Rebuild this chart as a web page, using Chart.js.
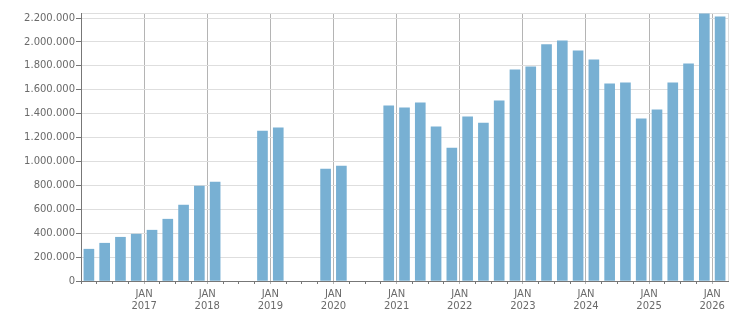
<!DOCTYPE html>
<html>
<head>
<meta charset="utf-8">
<script src="https://cdn.jsdelivr.net/npm/chart.js@4/dist/chart.umd.min.js"></script>
<style>
    body { margin: 0; background: #fff; }
</style>
</head>
<body>
<canvas id="myChart" width="751" height="313"></canvas>
<script>
// quarters from Q1 2016 to Q1 2026, null = no data
const quarters = [
    '2016 Q1', '2016 Q2', '2016 Q3', '2016 Q4',
    '2017 Q1', '2017 Q2', '2017 Q3', '2017 Q4',
    '2018 Q1', '2018 Q2', '2018 Q3', '2018 Q4',
    '2019 Q1', '2019 Q2', '2019 Q3', '2019 Q4',
    '2020 Q1', '2020 Q2', '2020 Q3', '2020 Q4',
    '2021 Q1', '2021 Q2', '2021 Q3', '2021 Q4',
    '2022 Q1', '2022 Q2', '2022 Q3', '2022 Q4',
    '2023 Q1', '2023 Q2', '2023 Q3', '2023 Q4',
    '2024 Q1', '2024 Q2', '2024 Q3', '2024 Q4',
    '2025 Q1', '2025 Q2', '2025 Q3', '2025 Q4',
    '2026 Q1'
];
const values = [
    266000, 316000, 366000, 392000,
    425000, 517000, 635000, 794000,
    828000, null, null, 1255000,
    1281000, null, null, 937000,
    962000, null, null, 1465000,
    1448000, 1490000, 1289000, 1113000,
    1373000, 1322000, 1507000, 1767000,
    1792000, 1977000, 2010000, 1926000,
    1851000, 1649000, 1658000, 1356000,
    1431000, 1658000, 1817000, 2236000,
    2211000
];
const yTicks = [0, 200000, 400000, 600000, 800000, 1000000, 1200000,
    1400000, 1600000, 1800000, 2000000, 2200000];
const yMax = 2242000;
const tickYears = ['2017', '2018', '2019', '2020', '2021', '2022', '2023', '2024', '2025', '2026'];

document.addEventListener("DOMContentLoaded", function () {
    const ctx = document.getElementById('myChart').getContext('2d');

    const points = [];
    values.forEach((v, i) => {
        if (v !== null) {
            points.push({ x: i + 0.5, y: v });
        }
    });

    const fmt = new Intl.NumberFormat('de-DE');
    const textColor = '#6a6a6a';
    const font = { family: 'DejaVu Sans', size: 10 };

    new Chart(ctx, {
        type: 'bar',
        data: {
            datasets: [{
                label: 'Wert',
                data: points,
                backgroundColor: '#78b0d3',
                borderWidth: 0,
                barThickness: 10
            }]
        },
        options: {
            responsive: false,
            animation: false,
            layout: {
                padding: { top: 13, right: 23, left: 0, bottom: 0 }
            },
            plugins: {
                legend: { display: false },
                tooltip: { enabled: false }
            },
            scales: {
                x: {
                    type: 'linear',
                    min: 0,
                    max: quarters.length,
                    offset: false,
                    afterBuildTicks: scale => {
                        const t = [];
                        for (let i = 0; i <= quarters.length; i++) t.push({ value: i });
                        scale.ticks = t;
                    },
                    afterFit: scale => { scale.height = 32; },
                    ticks: {
                        autoSkip: false,
                        maxRotation: 0,
                        padding: 4,
                        color: textColor,
                        font: font,
                        callback: v => {
                            if (v > 0 && v % 4 === 0) {
                                return ['JAN', tickYears[v / 4 - 1]];
                            }
                            return '';
                        }
                    },
                    grid: {
                        offset: false,
                        tickLength: 3,
                        color: c => {
                            const v = c.tick ? c.tick.value : 0;
                            if (v === quarters.length) return '#dedede';
                            return v % 4 === 0 ? '#b4b4b4' : 'rgba(0,0,0,0)';
                        },
                        tickColor: c => {
                            const v = c.tick ? c.tick.value : 0;
                            if (v === quarters.length) return 'rgba(0,0,0,0)';
                            return v % 4 === 0 && v > 0 ? '#b4b4b4' : '#777';
                        }
                    },
                    border: { color: '#777' }
                },
                y: {
                    min: 0,
                    max: yMax,
                    afterBuildTicks: scale => {
                        scale.ticks = yTicks.map(v => ({ value: v })).concat({ value: yMax });
                    },
                    afterFit: scale => { scale.width = 81; },
                    ticks: {
                        padding: 1,
                        color: textColor,
                        font: font,
                        callback: v => yTicks.includes(v) ? fmt.format(v) : ''
                    },
                    grid: {
                        tickLength: 5,
                        color: '#dedede',
                        tickColor: c => (c.tick && c.tick.value === yMax) ? 'rgba(0,0,0,0)' : '#777'
                    },
                    border: { color: '#777' }
                }
            }
        }
    });
});
</script>
</body>
</html>
